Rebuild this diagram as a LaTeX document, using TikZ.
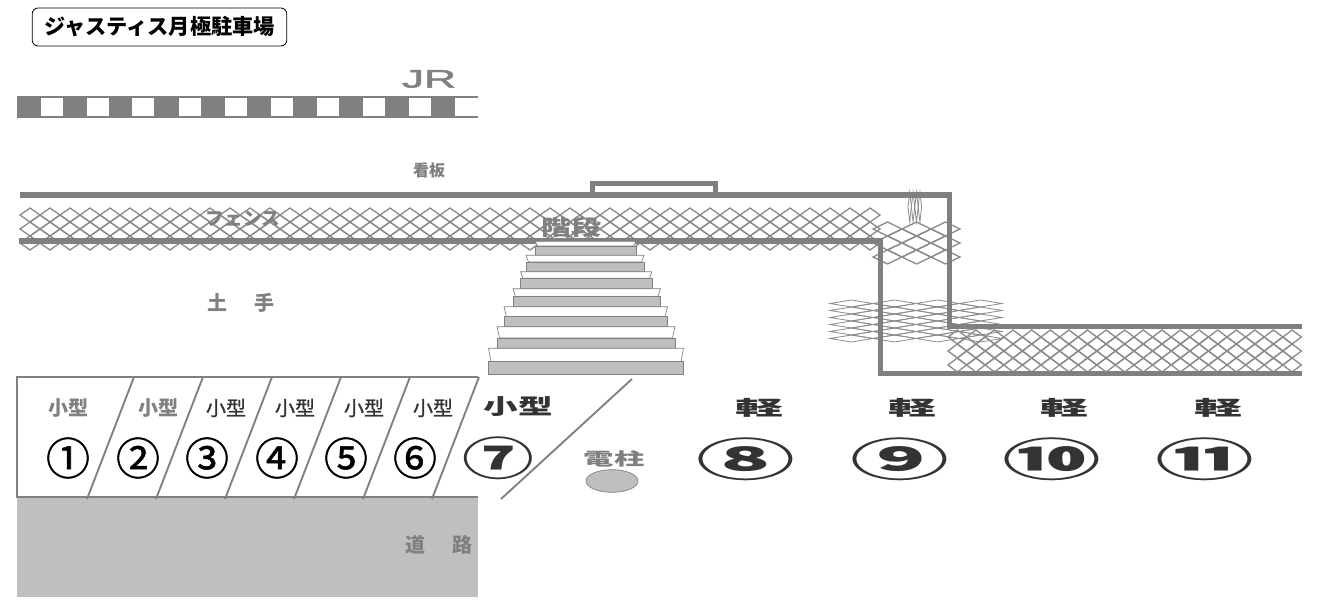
\documentclass[tikz,border=0pt]{standalone}
\usepackage{fontspec}
\usepackage{graphicx}
\usetikzlibrary{shapes.geometric}
\newfontfamily\jpfont{Noto Sans CJK JP}
\newfontfamily\jpfake[FakeBold=1.2]{Noto Sans CJK JP}
\newfontfamily\jrfont[FakeBold=1.5]{Liberation Sans}
\definecolor{WallClr}{rgb}{0.5,0.5,0.5}
\definecolor{MeshClr}{rgb}{0.55,0.55,0.55}
\definecolor{RoadClr}{rgb}{0.75,0.75,0.75}
\definecolor{DarkClr}{rgb}{0.2,0.2,0.2}
\tikzset{
  wall/.style={line width=4.4pt,color=WallClr,line join=miter},
  meshline/.style={line width=1pt,color=MeshClr},
  thinmesh/.style={line width=.6pt,color=MeshClr},
  bayline/.style={line width=1.4pt,color=WallClr},
  graylbl/.style={inner sep=0pt,text=WallClr,font=\jpfont\bfseries\fontsize{15}{15}\selectfont},
  darklbl/.style={inner sep=0pt,text=DarkClr,font=\jpfake\fontsize{15}{15}\selectfont},
  baynum/.style={inner sep=0pt,text=black,font=\jpfake\fontsize{33}{33}\selectfont},
  wideno/.style={inner sep=0pt,text=DarkClr,font=\jpfont\bfseries\fontsize{34}{34}\selectfont}
}
\newcommand{\MeshBand}[7][meshline]{%
  \foreach \i in {1,...,#4}{
    \foreach \j in {1,...,#5}{
      \pgfmathsetmacro\mx{#2+(\i-1)*#6}
      \pgfmathsetmacro\my{#3+(\j-1)*#7}
      \draw[#1] (\mx,\my+#7/2) -- (\mx+#6/2,\my) -- (\mx+#6,\my+#7/2) -- (\mx+#6/2,\my+#7) -- cycle;
    }
  }
}
\begin{document}
\begin{tikzpicture}[x=.75pt,y=-.75pt]
\useasboundingbox (0,0) rectangle (1318,605);
\fill[white] (0,0) rectangle (1318,605);

\node[draw=black,line width=.6pt,rounded corners=4.5pt,minimum width=191pt,minimum height=28.5pt,inner sep=0pt,font=\jpfont\bfseries\fontsize{15.9}{16}\selectfont] (title) at (159.5,27) {ジャスティス月極駐車場};

\fill[WallClr] (17,96) rectangle (478,118);
\foreach \wx/\wy in {41/63,87/109,132/154,179/201,225/247,271/293,317/339,363/385,409/431,455/478}
  \fill[white] (\wx,98) rectangle (\wy,116);
\node[inner sep=0pt,text=WallClr,font=\jrfont\fontsize{19}{19}\selectfont] (jr) at (429,79) {\scalebox{1.75}[1]{JR}};

\node[graylbl,font=\jpfont\bfseries\fontsize{12}{12}\selectfont] (sign) at (429,170) {看板};

\MeshBand{20}{208}{43}{3}{20}{14}
\MeshBand{30}{215}{42}{2}{20}{14}
\MeshBand{948}{330}{19}{3}{18.6}{14}
\MeshBand{957.3}{337}{18}{2}{18.6}{14}
\MeshBand{873}{222}{3}{3}{29}{14}
\MeshBand{887.5}{229}{2}{2}{29}{14}
\MeshBand[thinmesh]{830}{300}{4}{6}{43}{7}
\MeshBand[thinmesh]{851.5}{303.5}{3}{5}{43}{7}
\MeshBand[thinmesh]{908}{192}{4}{1}{3.4}{30}

\draw[wall] (20,195) -- (592.5,195) -- (592.5,183.5) -- (715.5,183.5) -- (715.5,195) -- (949.5,195) -- (949.5,326.5) -- (1302,326.5);
\draw[wall] (592.5,195) -- (715.5,195);
\draw[wall] (19,241) -- (880.5,241) -- (880.5,373.5) -- (1302,373.5);

\node[graylbl,font=\jpfont\bfseries\fontsize{14}{14}\selectfont] (fence) at (243,219) {フェンス};
\node[graylbl,font=\jpfont\bfseries\fontsize{16}{16}\selectfont] (stairs) at (571,227) {\scalebox{1.4}[1]{階段}};
\node[graylbl] (bank) at (241,303) {土\hspace{1.4em}手};

\foreach \xa/\xb/\ya/\yb/\yc in {535/636/241.3/246/255.3,526/644/255.3/262/271.7,520.5/652/271.7/278.3/288.3,513/660.5/288.7/296.7/306.7,504/667.5/306.7/316.7/326.7,497/675/326.7/338/348.3,488.5/683.5/348.3/361.7/374.3}{
  \draw[line width=.5pt,color=WallClr,fill=white] (\xa,\ya) -- (\xb,\ya) -- (\xb-2.5,\yb) -- (\xa+2.5,\yb) -- cycle;
  \draw[line width=.5pt,color=WallClr,fill=RoadClr] (\xa,\yb) rectangle (\xb,\yc);
}

\fill[RoadClr] (17,497) rectangle (478,597);
\draw[bayline] (478,377) -- (17,377) -- (17,497) -- (478,497);
\foreach \bx in {87,156,225,294,363,432}
  \draw[bayline] (\bx,499) -- (\bx+47,377);
\draw[bayline] (501,499) -- (632,379);
\node[graylbl] (road) at (439,545) {道\hspace{1.4em}路};

\node[graylbl] (small1) at (68,408) {小型};
\node[graylbl] (small2) at (158,408) {小型};
\foreach \kx/\kn in {226/3,295/4,364/5,433/6}
  \node[darklbl] (small\kn) at (\kx,408) {小型};
\node[darklbl,font=\jpfont\bfseries\fontsize{16}{16}\selectfont] (small7) at (518,407) {\scalebox{1.62}[1]{小型}};

\foreach \nx/\nc/\nk in {68/①/1,138/②/2,207/③/3,277/④/4,346/⑤/5,415/⑥/6}
  \node[baynum] (no\nk) at (\nx,458) {\nc};
\node[wideno] (no7) at (498,458) {\scalebox{1.58}[1]{⑦}};
\foreach \nx/\nc/\nk in {746/⑧/8,900/⑨/9,1052/⑩/10,1205/⑪/11}
  \node[wideno] (no\nk) at (\nx,459) {\scalebox{2.18}[1]{\nc}};
\foreach \lx in {759,912,1064,1218}
  \node[darklbl,font=\jpfont\bfseries\fontsize{15}{15}\selectfont] (light\lx) at (\lx,408) {\scalebox{2.4}[1]{軽}};

\node[graylbl,font=\jpfont\bfseries\fontsize{13}{13}\selectfont] (poletxt) at (614,459) {\scalebox{1.75}[1]{電柱}};
\node[ellipse,draw=WallClr,fill=RoadClr,line width=.5pt,minimum width=39pt,minimum height=17pt,inner sep=0pt] (pole) at (612,481) {};
\end{tikzpicture}
\end{document}
